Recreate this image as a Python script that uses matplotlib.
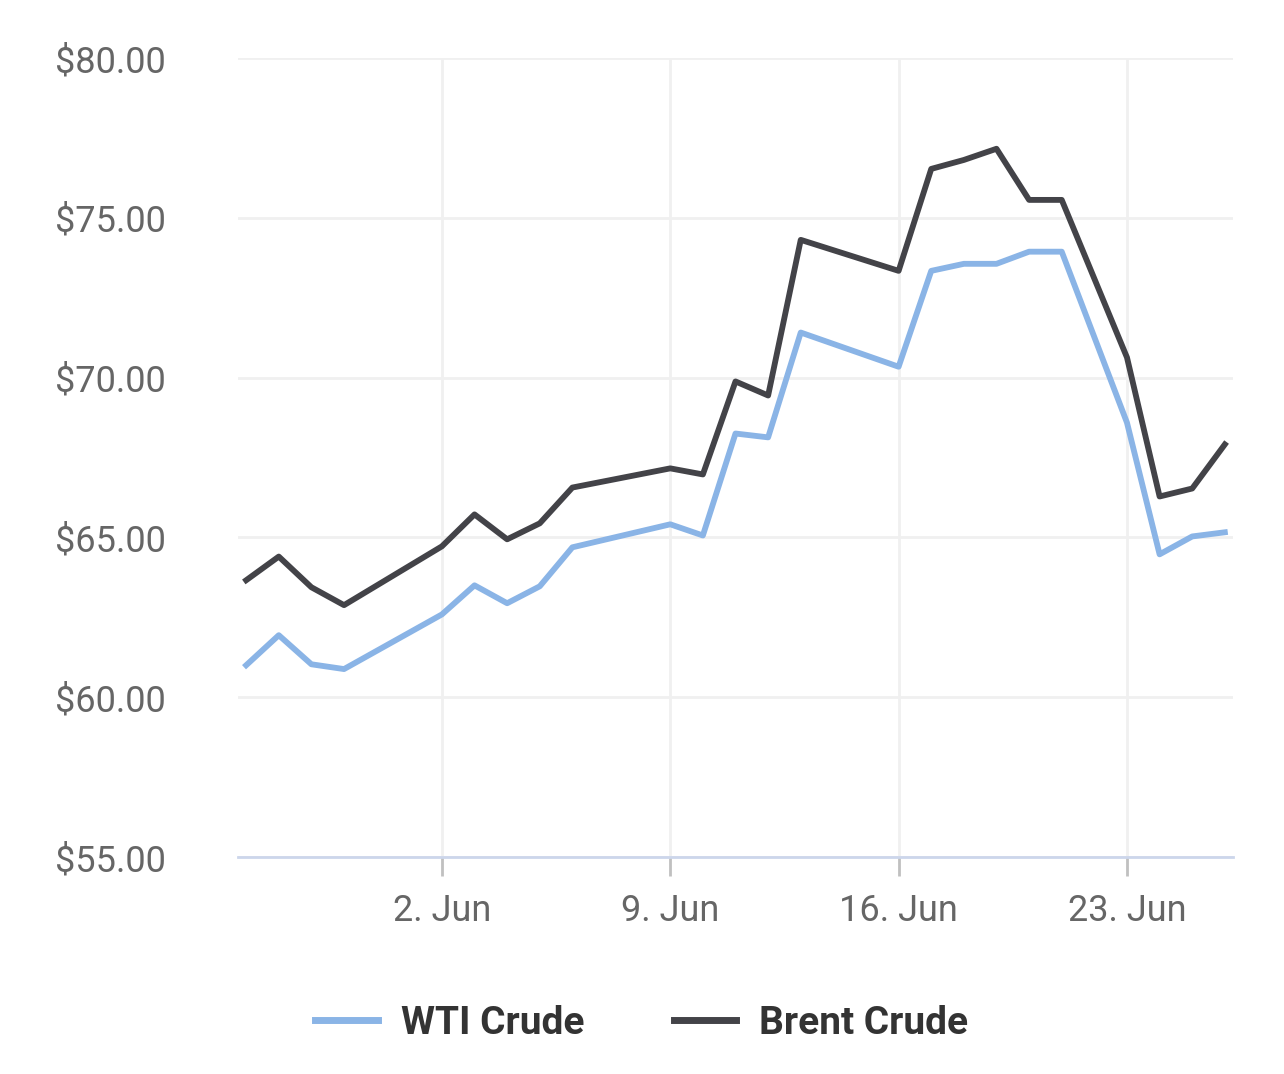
import matplotlib
matplotlib.use("Agg")
import matplotlib.pyplot as plt
import datetime as dt

dates = ["2025-05-27","2025-05-28","2025-05-29","2025-05-30","2025-06-02","2025-06-03","2025-06-04","2025-06-05","2025-06-06",
         "2025-06-09","2025-06-10","2025-06-11","2025-06-12","2025-06-13","2025-06-16","2025-06-17","2025-06-18","2025-06-19",
         "2025-06-20","2025-06-21","2025-06-23","2025-06-24","2025-06-25","2025-06-26"]
wti = [61.0,61.94,61.03,60.88,62.59,63.5,62.94,63.47,64.69,65.41,65.06,68.25,68.13,71.41,70.34,73.34,73.56,73.56,73.94,73.94,68.59,64.47,65.03,65.16]
brent = [63.66,64.4,63.44,62.88,64.72,65.72,64.94,65.44,66.56,67.16,66.97,69.88,69.44,74.31,73.34,76.53,76.81,77.16,75.56,75.56,70.63,66.28,66.53,67.91]
tick_dates = ["2025-06-02","2025-06-09","2025-06-16","2025-06-23"]
tick_labels = ["2. Jun","9. Jun","16. Jun","23. Jun"]
y_ticks = [55,60,65,70,75,80]

x = [dt.datetime.fromisoformat(d) for d in dates]
plt.rcParams['font.family'] = ['Roboto','DejaVu Sans']
fig = plt.figure(figsize=(12.84,10.74), dpi=100)
ax = fig.add_axes([238/1284, 1-857/1074, (1233-238)/1284, (857-58)/1074])
ax.plot(x, wti, color="#8ab4e6", lw=4.2, label="WTI Crude")
ax.plot(x, brent, color="#434348", lw=4.2, label="Brent Crude")
ax.set_ylim(55,80)
ax.set_xlim(dt.datetime(2025,5,26,18), dt.datetime(2025,6,26,6))
ax.set_yticks(y_ticks)
ax.set_yticklabels([f"${v:.2f}" for v in y_ticks])
ax.set_xticks([dt.datetime.fromisoformat(d) for d in tick_dates])
ax.set_xticklabels(tick_labels)
ax.grid(True, color="#f0f0f0", lw=2)
for s in ["top","right","left"]:
    ax.spines[s].set_visible(False)
ax.spines["bottom"].set_color("#ccd6eb"); ax.spines["bottom"].set_linewidth(2)
ax.tick_params(axis='y', length=0, labelsize=26, labelcolor="#666666", pad=52)
ax.tick_params(axis='x', length=14, width=2, color="#c0c0c0", labelsize=26, labelcolor="#666666", pad=12)
leg = fig.legend(loc="center", bbox_to_anchor=(0.5, 1-1023/1074), ncol=2, frameon=False,
                 prop={'size':28,'weight':'bold'}, handlelength=1.6, columnspacing=2.3, handletextpad=0.6)
for t in leg.get_texts(): t.set_color("#333333")
for l in leg.get_lines(): l.set_linewidth(5)
fig.savefig("out.png", dpi=100, facecolor="white")
